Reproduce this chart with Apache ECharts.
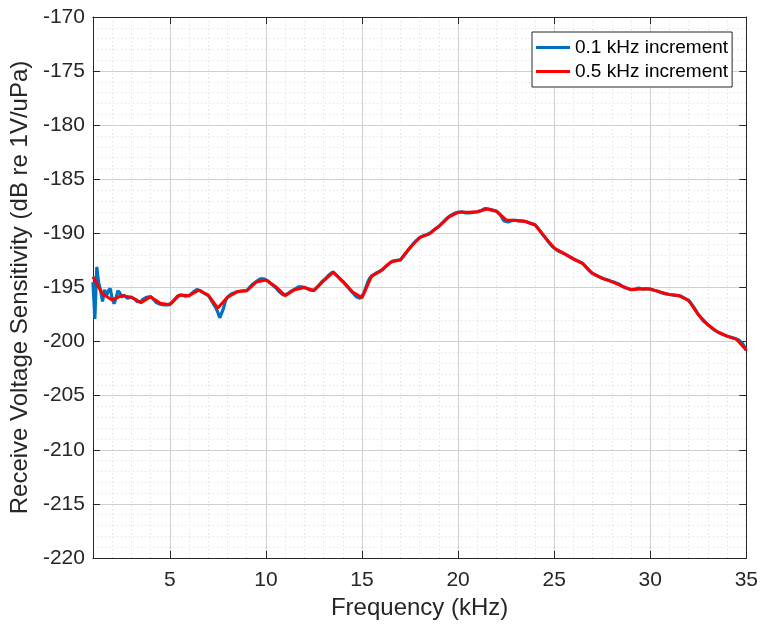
<!DOCTYPE html>
<html>
<head>
<meta charset="utf-8">
<title>Receive Voltage Sensitivity</title>
<script src="https://cdn.jsdelivr.net/npm/echarts@6/dist/echarts.min.js"></script>
<style>
  html, body { margin: 0; padding: 0; background: #ffffff; }
  #chart { width: 761px; height: 626px; }
</style>
</head>
<body>
<div id="chart"></div>
<script>
// Frequency sweeps (kHz) and measured receive sensitivity (dB re 1V/uPa)
const fineStart = 1.0, fineStep = 0.1;   // 0.1 kHz increment sweep
const coarseStart = 1.0, coarseStep = 0.5; // 0.5 kHz increment sweep

const fineValues = [
  -194.5, -197.9, -193.1, -194.6, -195.3, -196.3, -195.2, -195.8, -195.3, -195.1,
  -196.0, -196.5, -196.0, -195.3, -195.5, -195.9, -195.7, -195.8, -196.0, -195.95,
  -195.9, -196.0, -196.1, -196.3, -196.45, -196.3, -196.1, -196.0, -195.9, -195.8,
  -195.85, -196.0, -196.2, -196.4, -196.5, -196.55, -196.6, -196.6, -196.65, -196.6,
  -196.6, -196.4, -196.2, -196.0, -195.8, -195.65, -195.7, -195.75, -195.8, -195.75,
  -195.75, -195.6, -195.45, -195.3, -195.2, -195.25, -195.3, -195.45, -195.55, -195.65,
  -195.75, -196.0, -196.3, -196.6, -196.9, -197.3, -197.8, -197.7, -196.9, -196.2,
  -195.9, -195.75, -195.6, -195.5, -195.45, -195.4, -195.35, -195.35, -195.3, -195.3,
  -195.3, -195.1, -194.9, -194.7, -194.55, -194.45, -194.3, -194.2, -194.15, -194.2,
  -194.3, -194.4, -194.55, -194.7, -194.85, -195.0, -195.2, -195.4, -195.55, -195.7,
  -195.75, -195.6, -195.45, -195.35, -195.25, -195.15, -195.05, -194.95, -194.9, -194.95,
  -195.0, -195.05, -195.15, -195.25, -195.3, -195.25, -195.1, -194.9, -194.7, -194.5,
  -194.4, -194.2, -194.0, -193.8, -193.65, -193.55, -193.7, -193.9, -194.1, -194.3,
  -194.45, -194.65, -194.85, -195.05, -195.25, -195.45, -195.65, -195.85, -195.95, -196.0,
  -195.95, -195.5, -195.0, -194.5, -194.15, -193.95, -193.8, -193.7, -193.6, -193.5,
  -193.45, -193.3, -193.1, -192.95, -192.8, -192.65, -192.55, -192.5, -192.5, -192.45,
  -192.45, -192.3, -192.0, -191.8, -191.55, -191.35, -191.1, -190.9, -190.7, -190.55,
  -190.4, -190.3, -190.2, -190.15, -190.1, -190.05, -189.9, -189.75, -189.6, -189.5,
  -189.35, -189.2, -189.0, -188.85, -188.65, -188.5, -188.35, -188.25, -188.15, -188.1,
  -188.05, -188.0, -188.0, -188.05, -188.1, -188.05, -188.1, -188.1, -188.05, -188.0,
  -188.0, -187.95, -187.9, -187.8, -187.7, -187.7, -187.75, -187.8, -187.85, -187.95,
  -187.95, -188.1, -188.3, -188.6, -188.85, -189.0, -188.95, -188.8, -188.8, -188.85,
  -188.8, -188.8, -188.85, -188.9, -188.85, -188.9, -188.95, -189.0, -189.1, -189.15,
  -189.2, -189.35, -189.6, -189.85, -190.1, -190.3, -190.55, -190.8, -191.0, -191.2,
  -191.35, -191.5, -191.6, -191.7, -191.8, -191.85, -191.95, -192.05, -192.15, -192.25,
  -192.35, -192.45, -192.55, -192.6, -192.7, -192.8, -193.0, -193.2, -193.4, -193.55,
  -193.7, -193.8, -193.9, -193.95, -194.05, -194.15, -194.2, -194.25, -194.3, -194.4,
  -194.45, -194.5, -194.55, -194.6, -194.7, -194.85, -194.95, -195.0, -195.1, -195.15,
  -195.2, -195.2, -195.15, -195.1, -195.05, -195.1, -195.15, -195.1, -195.1, -195.15,
  -195.15, -195.2, -195.25, -195.3, -195.35, -195.4, -195.5, -195.55, -195.6, -195.6,
  -195.65, -195.7, -195.7, -195.7, -195.75, -195.75, -195.8, -195.9, -196.0, -196.1,
  -196.2, -196.4, -196.65, -196.9, -197.2, -197.5, -197.7, -197.95, -198.15, -198.3,
  -198.45, -198.6, -198.75, -198.9, -199.0, -199.1, -199.2, -199.3, -199.35, -199.45,
  -199.5, -199.55, -199.6, -199.65, -199.7, -199.8, -199.85, -199.95, -200.15, -200.45,
  -200.8
];

const coarseValues = [
  -194.0, -195.6, -196.15, -195.75, -195.9, -196.4, -195.85, -196.45, -196.6, -195.7,
  -195.75, -195.25, -195.7, -196.9, -195.9, -195.4, -195.3, -194.5, -194.3, -194.9,
  -195.75, -195.2, -195.0, -195.3, -194.4, -193.6, -194.4, -195.4, -195.95, -193.95,
  -193.45, -192.65, -192.45, -191.3, -190.4, -190.05, -189.35, -188.5, -188.05, -188.05,
  -188.0, -187.75, -187.95, -188.75, -188.8, -188.9, -189.2, -190.3, -191.35, -191.85,
  -192.35, -192.8, -193.7, -194.15, -194.45, -194.85, -195.2, -195.15, -195.15, -195.4,
  -195.65, -195.75, -196.2, -197.5, -198.45, -199.1, -199.5, -199.8, -200.8
];

const xTickValues = [5, 10, 15, 20, 25, 30, 35];
const seriesNames = ['0.1 kHz increment', '0.5 kHz increment'];

function pairs(start, step, values) {
  return values.map((v, i) => [+(start + i * step).toFixed(2), v]);
}

const ink = '#262626';
const font = '"Liberation Sans", Arial, Helvetica, sans-serif';
const majorGrid = { show: true, lineStyle: { color: '#d0d0d0', width: 1, type: 'solid' } };
const minorGrid = { show: true, lineStyle: { color: '#dadada', width: 1, type: [1, 3] } };

const chart = echarts.init(document.getElementById('chart'), null, { renderer: 'canvas' });

chart.setOption({
  animation: false,
  backgroundColor: '#ffffff',
  textStyle: { fontFamily: font, color: ink },
  grid: { left: 91, top: 17, right: 13, bottom: 68, containLabel: false },
  xAxis: [
    {
      type: 'value', position: 'bottom', min: 1, max: 35, z: 2,
      name: 'Frequency (kHz)', nameLocation: 'middle', nameGap: 36,
      nameTextStyle: { fontSize: 24, color: ink, fontFamily: font },
      axisLine: { show: true, onZero: false, lineStyle: { color: ink, width: 1 } },
      axisTick: { show: true, inside: true, length: 7, customValues: xTickValues, lineStyle: { color: ink } },
      axisLabel: { show: true, fontSize: 21, color: ink, margin: 12, fontFamily: font, customValues: xTickValues },
      splitLine: majorGrid
    },
    {
      type: 'value', position: 'top', min: 1, max: 35, z: 2,
      axisLine: { show: true, onZero: false, lineStyle: { color: ink, width: 1 } },
      axisTick: { show: true, inside: true, length: 7, customValues: xTickValues, lineStyle: { color: ink } },
      axisLabel: { show: false },
      splitLine: { show: false }
    },
    {
      type: 'value', position: 'bottom', min: 1, max: 35, interval: 1, z: 0,
      axisLine: { show: false, onZero: false },
      axisTick: { show: false },
      axisLabel: { show: false },
      splitLine: minorGrid
    }
  ],
  yAxis: [
    {
      type: 'value', position: 'left', min: -220, max: -170, interval: 5, z: 2,
      name: 'Receive Voltage Sensitivity (dB re 1V/uPa)', nameLocation: 'middle', nameGap: 56,
      nameRotate: 90,
      nameTextStyle: { fontSize: 24, color: ink, fontFamily: font },
      axisLine: { show: true, onZero: false, lineStyle: { color: ink, width: 1 } },
      axisTick: { show: true, inside: true, length: 7, lineStyle: { color: ink } },
      axisLabel: { show: true, fontSize: 21, color: ink, margin: 8, fontFamily: font },
      minorTick: { show: false, splitNumber: 5 },
      minorSplitLine: minorGrid,
      splitLine: majorGrid
    },
    {
      type: 'value', position: 'right', min: -220, max: -170, interval: 5, z: 2,
      axisLine: { show: true, onZero: false, lineStyle: { color: ink, width: 1 } },
      axisTick: { show: true, inside: true, length: 7, lineStyle: { color: ink } },
      axisLabel: { show: false },
      splitLine: { show: false }
    }
  ],
  legend: {
    left: 532, top: 32, orient: 'vertical',
    backgroundColor: '#ffffff',
    borderColor: ink, borderWidth: 1, borderRadius: 0,
    padding: [5, 4, 5, 4],
    itemGap: 3, itemWidth: 34, itemHeight: 3, icon: 'rect',
    textStyle: { fontSize: 19, color: '#000000', fontFamily: font, lineHeight: 21 },
    data: seriesNames
  },
  series: [
    {
      name: seriesNames[0], type: 'line', xAxisIndex: 0, yAxisIndex: 0,
      data: pairs(fineStart, fineStep, fineValues),
      showSymbol: false, symbol: 'none', z: 3,
      lineStyle: { color: '#0072BD', width: 3.2 },
      itemStyle: { color: '#0072BD' }
    },
    {
      name: seriesNames[1], type: 'line', xAxisIndex: 0, yAxisIndex: 0,
      data: pairs(coarseStart, coarseStep, coarseValues),
      showSymbol: false, symbol: 'none', z: 4,
      lineStyle: { color: '#FF0000', width: 3 },
      itemStyle: { color: '#FF0000' }
    }
  ]
});
</script>
</body>
</html>
